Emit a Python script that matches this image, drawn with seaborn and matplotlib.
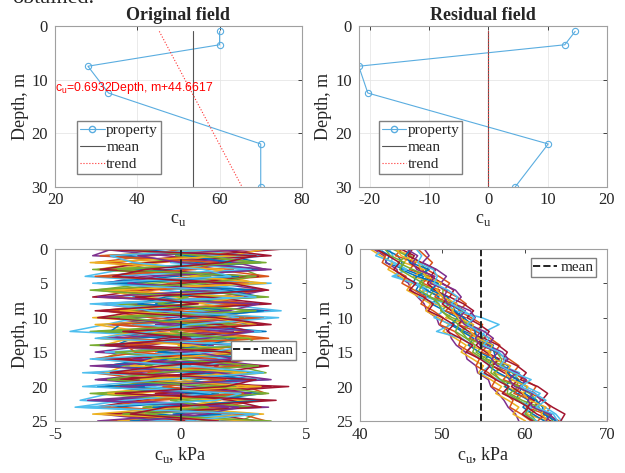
"""Original vs residual undrained shear strength field, with simulated profiles."""

import matplotlib

matplotlib.use("Agg")
import matplotlib.pyplot as plt
import pandas as pd
import seaborn as sns
from matplotlib.lines import Line2D

# ---- measured profile (top panels) ----
DEPTH = [1, 3.5, 7.5, 12.5, 22, 30]
CU_PROPERTY = [60, 60, 28, 33, 70, 70]
CU_RESIDUAL = [14.65, 12.9, -21.86, -20.33, 10.1, 4.54]
CU_MEAN = 53.6
TREND_DEPTH = [1, 30]
TREND_CU = [45.35, 65.46]
TREND_LABEL = r"c$_\mathregular{u}$=0.6932Depth, m+44.6617"

# ---- simulated profiles (bottom panels) ----
SIM_DEPTH = [0, 1, 2, 3, 4, 5, 6, 7, 8, 9, 10, 11, 12, 13, 14, 15, 16, 17, 18, 19, 20, 21, 22, 23, 24, 25]

SIM_RESIDUAL = [
    [-2.1, 1.8, 3.2, -0.5, -3.1, 2.4, 0.7, -1.9, 3.4, -2.8, 1.1, 2.9, -3.3, -0.8, 2.2, 3.5, -1.4, -2.9, 0.6, 3.1, -2.2, 1.5, -3.4, 2.7, -0.3, 1.9],
    [3.0, -1.2, -3.4, 2.1, 0.9, -2.6, 3.3, 1.4, -0.7, -3.2, 2.5, -1.8, 0.4, 3.1, -2.9, -0.6, 2.8, 1.2, -3.5, -1.1, 2.6, 3.4, -0.9, -2.5, 1.7, -3.0],
    [0.4, 2.7, -1.6, -3.3, 1.9, 3.0, -2.4, -0.2, 2.3, 1.0, -3.5, 0.8, 2.6, -2.0, -3.1, 1.6, 3.2, -0.7, 2.0, -2.7, -0.4, -3.3, 2.9, 0.5, -1.8, 3.2],
    [-3.3, -0.6, 2.2, 3.4, -1.5, -3.0, 0.9, 2.8, -2.2, 3.6, -0.5, -2.9, 1.8, 0.3, -1.2, -3.4, 0.9, 3.3, -2.0, 1.4, 3.0, -0.8, -2.4, 3.5, -3.2, -0.6],
    [1.6, -3.0, 0.3, 2.5, 3.2, -1.1, -3.4, 1.7, 0.2, -2.1, 3.1, 1.3, -3.6, 2.4, 0.8, -2.3, -3.2, 2.2, 3.4, -0.3, -3.0, 2.0, 0.6, -1.5, 3.0, 2.4],
    [-1.0, 3.3, 1.2, -2.3, -3.8, 0.5, 2.7, -3.1, 1.5, 4.0, -1.7, -3.0, -4.4, 1.1, 3.0, -1.0, 1.6, -2.5, 0.2, 2.9, 1.0, -2.8, -4.0, 0.7, 2.6, -1.2],
    [4.2, 0.6, -2.8, -1.0, 2.6, 1.8, -1.5, -3.5, 3.0, -0.9, 0.4, 3.3, -1.0, -3.2, 2.1, 0.9, -2.6, 3.5, 1.3, -3.3, 4.3, 0.3, -1.6, -3.4, 1.2, 3.0],
    [2.3, -2.4, 0.8, 3.1, -0.2, -3.3, 1.9, 3.2, -1.0, 2.0, -2.8, 0.1, 3.4, -1.9, -2.6, 2.7, -0.5, -3.1, 2.4, 0.7, -1.8, 3.3, 1.1, -2.7, -0.9, 2.2],
    [-0.7, 1.0, -2.9, 1.3, 3.5, -0.4, -2.0, 0.6, 2.9, -3.0, -1.2, 2.4, 0.5, -2.5, 3.3, -1.6, -3.5, 0.4, -1.3, 2.5, -2.6, -0.5, 3.1, 1.6, -2.9, 0.3],
    [3.4, 2.0, -0.8, -2.7, 0.7, 3.1, -3.2, -1.4, 0.9, 2.6, 1.8, -3.4, -1.5, 3.0, -0.1, 2.1, 3.0, -2.2, -3.0, 0.1, 1.9, -2.0, 2.5, -0.2, 3.3, -2.5],
    [-2.7, -3.5, 2.6, 0.2, -2.2, 1.4, 3.4, 2.0, -3.3, -0.6, 3.2, -1.0, 2.1, -3.0, 1.3, 0.3, -1.9, 2.7, -0.6, -3.4, 0.5, 2.8, -3.1, 1.9, 0.4, -3.3],
    [0.9, -0.2, 3.4, -3.5, 1.2, -1.8, 0.2, 3.5, -2.6, 1.5, -3.1, 2.2, -0.4, 1.8, -3.6, 3.1, 0.0, -1.4, 3.2, -2.0, 2.2, -3.6, 0.3, 2.8, -1.4, 1.1],
    [-3.6, 2.4, -0.4, 2.8, -3.0, 3.6, -0.8, 2.1, -3.6, 0.8, 2.3, -1.9, 3.2, -0.5, 2.5, -3.0, 2.3, 0.9, -3.9, 3.5, -1.4, 1.2, -2.2, -4.2, 2.0, -0.8],
    [1.2, 3.6, -1.3, -3.2, 3.1, 0.2, -2.7, 1.0, 3.6, -1.5, -3.3, 1.6, 2.8, -0.7, -2.0, 3.4, -3.0, 1.5, 0.8, -2.4, 3.6, -1.0, 2.0, 3.2, -3.0, 0.6],
    [-1.8, 0.3, 2.0, -1.9, 2.3, -2.5, 3.0, -0.6, -1.7, 3.3, 0.6, -2.4, -2.8, 2.2, 1.0, -0.9, 3.6, -3.3, 0.9, 2.6, -3.3, 0.7, 3.2, -1.1, 1.6, -2.0],
    [2.8, -3.2, 1.5, 0.6, -3.4, 2.7, -1.1, -2.6, 2.2, -0.3, 3.3, -2.7, 1.0, 3.5, -2.2, -1.8, 1.4, 2.4, -2.6, 1.8, -0.7, 2.5, -1.3, -3.1, 2.4, 3.4],
    [-0.3, 2.2, -3.6, 1.7, 0.4, 3.4, -2.9, 2.5, 0.5, -2.4, 1.2, 3.0, -1.7, -3.3, 0.4, 2.6, -1.1, -2.0, 2.6, -1.6, 3.2, -2.9, 1.6, 0.0, -3.5, 2.8],
    [3.2, -1.7, 0.0, 3.6, -1.0, -2.1, 1.6, -3.3, 3.1, 1.9, -2.0, -0.5, 2.9, 1.0, -3.2, 0.6, 2.2, -3.6, 1.5, 3.6, -2.4, 0.1, -3.7, 2.3, 1.0, -1.6],
    [-2.4, 0.9, 2.9, -2.5, 3.0, 1.0, -3.6, 0.3, -0.9, 3.0, -2.4, 1.0, -3.0, 2.7, 3.1, -2.6, -0.3, 3.1, -1.0, -2.9, 1.3, 3.5, -0.4, 1.1, -2.3, 3.6],
    [1.9, -2.8, -1.9, 0.9, 2.0, -3.5, 1.5, 3.0, -2.9, -1.2, 3.9, 0.4, -1.1, -3.4, 2.8, 1.2, -3.6, 0.3, 3.3, -0.8, -3.9, 2.4, 1.4, -4.0, 3.1, 0.2],
    [-3.9, 3.0, 1.7, -1.4, -2.7, 2.0, 3.5, -1.8, 0.7, -3.4, 1.4, 3.6, -2.3, 0.4, -3.0, 1.8, 3.2, -0.8, -2.8, 3.0, 1.8, -2.6, 3.8, -0.6, -2.0, 1.5],
]

SIM_FIELD = [
    [42.2, 43.6, 43.1, 45.5, 47.7, 47.3, 46.8, 48.4, 50.8, 52.3, 51.8, 51.3, 52.7, 54.6, 56.2, 55.8, 55.3, 56.8, 58.7, 60.1, 59.7, 59.3, 59.0, 61.1, 62.7, 62.8],
    [47.0, 47.9, 48.8, 48.1, 49.6, 50.9, 50.2, 51.8, 52.9, 52.0, 53.5, 54.9, 54.1, 55.8, 57.0, 56.4, 58.1, 59.3, 58.6, 60.0, 61.4, 60.8, 62.3, 63.1, 62.6, 64.2],
    [44.1, 46.2, 45.3, 47.8, 46.5, 48.9, 47.6, 50.3, 49.1, 51.7, 50.4, 53.1, 52.2, 54.6, 53.1, 55.9, 54.8, 57.3, 56.2, 58.6, 57.5, 60.1, 58.9, 61.4, 60.2, 62.9],
    [41.6, 42.9, 43.2, 44.5, 44.6, 45.9, 46.2, 47.0, 47.8, 48.1, 49.3, 49.6, 50.8, 51.1, 51.7, 52.8, 53.0, 54.1, 54.3, 55.6, 55.9, 56.8, 57.5, 58.0, 58.9, 59.3],
    [45.9, 46.1, 47.3, 48.0, 47.9, 49.4, 50.1, 50.0, 51.6, 52.5, 52.2, 53.1, 54.6, 55.0, 54.9, 56.6, 57.2, 57.1, 58.5, 59.3, 59.0, 60.6, 61.5, 61.2, 62.9, 63.4],
    [43.5, 44.0, 43.8, 45.6, 44.2, 47.0, 48.3, 48.0, 50.5, 51.6, 54.8, 56.9, 55.2, 54.6, 55.8, 56.7, 57.9, 57.3, 59.4, 58.6, 60.1, 61.9, 60.8, 62.5, 63.8, 64.5],
    [46.4, 45.8, 47.5, 49.2, 48.6, 50.0, 51.4, 50.9, 52.6, 53.8, 53.0, 54.5, 55.7, 55.1, 56.8, 57.9, 57.4, 59.1, 60.2, 59.5, 61.6, 62.8, 62.1, 63.4, 64.9, 64.4],
    [42.9, 44.6, 45.1, 45.0, 46.9, 46.4, 48.1, 49.6, 48.7, 50.3, 51.9, 51.0, 52.4, 53.8, 53.2, 54.5, 56.1, 55.6, 56.8, 58.4, 57.6, 59.1, 60.5, 59.8, 61.0, 62.4],
    [45.1, 44.3, 46.8, 46.0, 48.5, 47.6, 49.7, 49.1, 51.3, 50.4, 52.8, 52.0, 54.1, 53.3, 55.6, 54.7, 56.9, 56.0, 58.2, 57.4, 59.6, 58.7, 61.1, 60.2, 62.5, 61.6],
    [41.2, 42.5, 44.0, 43.4, 44.9, 46.3, 45.7, 47.2, 48.6, 48.0, 49.5, 50.8, 50.1, 51.6, 52.9, 52.3, 53.7, 55.0, 54.4, 55.9, 57.2, 56.5, 58.0, 59.3, 58.6, 60.1],
    [47.8, 48.4, 47.6, 49.3, 50.5, 49.8, 51.6, 52.3, 51.5, 53.4, 54.0, 53.3, 55.1, 56.2, 55.5, 57.3, 58.0, 57.2, 59.1, 60.2, 59.4, 61.3, 62.0, 61.1, 63.0, 63.9],
    [43.9, 45.7, 44.6, 46.4, 48.3, 47.2, 49.0, 48.4, 50.9, 49.8, 51.2, 53.4, 52.3, 53.0, 55.2, 54.1, 55.4, 57.5, 56.3, 57.0, 59.3, 58.2, 59.7, 61.8, 60.7, 61.4],
    [42.8, 41.9, 44.2, 45.7, 43.9, 46.6, 47.9, 47.1, 49.5, 50.2, 49.0, 51.1, 49.3, 52.4, 53.6, 53.0, 54.9, 55.8, 54.6, 56.9, 58.1, 57.4, 59.2, 60.9, 60.0, 61.5],
    [44.9, 46.6, 46.0, 47.3, 48.9, 48.2, 49.1, 50.8, 50.0, 51.1, 52.7, 51.9, 53.2, 54.9, 54.1, 55.3, 56.9, 56.1, 57.5, 59.2, 58.4, 59.6, 61.2, 60.3, 61.5, 63.2],
    [46.2, 45.5, 46.1, 48.4, 47.0, 49.5, 48.6, 50.6, 51.3, 51.5, 52.6, 53.6, 54.0, 54.2, 55.9, 56.3, 56.5, 58.0, 57.9, 59.1, 60.3, 60.0, 61.4, 62.2, 62.3, 63.8],
    [42.0, 43.1, 42.7, 44.0, 45.6, 45.1, 46.6, 48.0, 47.4, 48.9, 50.1, 49.7, 51.5, 52.3, 52.0, 53.4, 54.5, 54.1, 55.6, 56.5, 56.0, 57.7, 58.6, 58.2, 59.6, 60.8],
    [44.4, 45.0, 47.1, 47.4, 48.0, 49.9, 49.3, 50.1, 51.8, 51.2, 51.9, 53.8, 53.4, 54.3, 56.1, 55.6, 56.2, 58.3, 57.7, 58.4, 60.4, 59.8, 60.6, 62.6, 62.0, 62.9],
    [45.6, 47.0, 46.4, 46.9, 49.1, 48.5, 50.6, 50.2, 50.6, 52.8, 52.1, 52.7, 54.7, 54.0, 54.6, 56.8, 56.0, 56.7, 58.9, 58.1, 58.8, 61.0, 60.4, 61.0, 63.3, 62.6],
    [43.0, 43.7, 45.4, 44.8, 46.2, 47.7, 47.2, 48.6, 49.6, 49.9, 50.8, 52.0, 51.6, 52.9, 54.0, 53.7, 55.0, 56.2, 55.9, 57.1, 58.0, 57.9, 59.3, 60.4, 60.1, 61.2],
    [46.8, 47.5, 47.0, 48.9, 49.4, 49.0, 50.7, 51.9, 51.1, 52.6, 53.9, 53.0, 54.5, 55.7, 55.0, 56.9, 57.6, 57.0, 58.7, 60.8, 59.5, 61.2, 62.6, 61.4, 63.5, 64.0],
    [41.9, 43.4, 44.8, 44.1, 45.3, 46.8, 46.0, 47.7, 48.9, 48.3, 50.0, 51.4, 50.6, 52.2, 53.7, 52.9, 54.6, 55.8, 55.1, 56.5, 58.1, 57.3, 59.0, 60.5, 59.7, 61.0],
]
SIM_RESIDUAL_MEAN = 0.0
SIM_FIELD_MEAN = 54.7
MEAN_DEPTH = [0, 25]

MATLAB_COLORS = ["#0072BD", "#D95319", "#EDB120", "#7E2F8E", "#77AC30", "#4DBEEE", "#A2142F"]
PROP_COLOR = "#5AADE0"

sns.set_theme(style="white")
plt.rcParams.update({
    "font.family": ["Liberation Serif", "DejaVu Serif"],
    "mathtext.fontset": "custom",
    "mathtext.rm": "Liberation Serif",
    "axes.unicode_minus": False,
    "axes.edgecolor": "#a0a0a0",
    "axes.linewidth": 0.8,
    "xtick.direction": "in",
    "ytick.direction": "in",
    "xtick.color": "#262626",
    "ytick.color": "#262626",
    "xtick.labelsize": 12,
    "ytick.labelsize": 12,
    "xtick.major.size": 3,
    "ytick.major.size": 3,
    "xtick.major.width": 0.6,
    "ytick.major.width": 0.6,
    "xtick.major.pad": 4,
    "ytick.major.pad": 5,
    "legend.fontsize": 11,
})


def long_form(profiles):
    rows = []
    for k, values in enumerate(profiles):
        for d, v in zip(SIM_DEPTH, values):
            rows.append({"sim": k, "depth": d, "cu": v})
    return pd.DataFrame(rows)


def style_axes(ax, grid):
    ax.tick_params(top=True, right=True, which="both")
    if grid:
        ax.grid(True, color="#e6e6e6", linewidth=0.6)
    else:
        ax.grid(False)
    ax.set_axisbelow(True)
    ax.set_ylabel("Depth, m", fontsize=13, labelpad=2)


def plot_profile(ax, values, mean_x, trend_x, title, legend_x):
    df = pd.DataFrame({"depth": DEPTH, "cu": values})
    sns.lineplot(data=df, x="cu", y="depth", orient="y", sort=False, ax=ax, color=PROP_COLOR,
                 lw=0.8, marker="o", markersize=4.5, markerfacecolor="none",
                 markeredgecolor=PROP_COLOR, markeredgewidth=0.8)
    sns.lineplot(x=[mean_x, mean_x], y=[DEPTH[0], DEPTH[-1]], orient="y", sort=False, ax=ax,
                 color="#555555", lw=0.8)
    sns.lineplot(x=trend_x, y=TREND_DEPTH, orient="y", sort=False, ax=ax,
                 color="#ff3030", lw=0.8, linestyle=":")
    ax.set_ylim(30, 0)
    ax.set_yticks([0, 10, 20, 30])
    ax.set_title(title, fontsize=13, fontweight="bold", pad=4)
    ax.set_xlabel(r"c$_\mathregular{u}$", fontsize=13, labelpad=2)
    style_axes(ax, True)
    handles = [
        Line2D([], [], color=PROP_COLOR, lw=0.8, marker="o", markersize=4.5, markerfacecolor="none"),
        Line2D([], [], color="#555555", lw=0.8),
        Line2D([], [], color="#ff3030", lw=0.8, linestyle=":"),
    ]
    ax.legend(handles, ["property", "mean", "trend"], loc="lower left", bbox_to_anchor=(legend_x, 0.08),
              fancybox=False, edgecolor="#808080", framealpha=1, handlelength=1.6,
              handletextpad=0.1, borderpad=0.2, labelspacing=0.2, borderaxespad=0)


def plot_simulations(ax, profiles, mean_x, xlim, xticks, legend_kw):
    df = long_form(profiles)
    palette = [MATLAB_COLORS[k % 7] for k in range(len(profiles))]
    sns.lineplot(data=df, x="cu", y="depth", hue="sim", units="sim", estimator=None,
                 orient="y", sort=False, palette=palette, lw=1.1, legend=False, ax=ax)
    sns.lineplot(x=[mean_x, mean_x], y=MEAN_DEPTH, orient="y", sort=False, ax=ax,
                 color="#222222", lw=1.4, linestyle="--")
    ax.set_xlim(*xlim)
    ax.set_xticks(xticks)
    ax.set_ylim(25, 0)
    ax.set_yticks([0, 5, 10, 15, 20, 25])
    ax.set_xlabel(r"c$_\mathregular{u}$, kPa", fontsize=13, labelpad=2)
    style_axes(ax, False)
    handle = Line2D([], [], color="#222222", lw=1.4, linestyle="--")
    ax.legend([handle], ["mean"], fancybox=False, edgecolor="#808080", framealpha=1,
              handlelength=1.6, handletextpad=0.2, borderpad=0.15, borderaxespad=0, **legend_kw)


fig = plt.figure(figsize=(6.25, 4.73), dpi=100)
ax_orig = fig.add_axes([0.088, 0.605, 0.395, 0.340])
ax_res = fig.add_axes([0.574, 0.605, 0.397, 0.340])
ax_sim_res = fig.add_axes([0.088, 0.110, 0.402, 0.364])
ax_sim = fig.add_axes([0.576, 0.110, 0.395, 0.364])

plot_profile(ax_orig, CU_PROPERTY, CU_MEAN, TREND_CU, "Original field", 0.09)
ax_orig.set_xlim(20, 80)
ax_orig.set_xticks([20, 40, 60, 80])
ax_orig.text(20, 11.5, TREND_LABEL, color="red", fontsize=8.8, va="center", ha="left",
             family=["Liberation Sans", "DejaVu Sans"], math_fontfamily="dejavusans")

plot_profile(ax_res, CU_RESIDUAL, 0, [0, 0], "Residual field", 0.08)
ax_res.set_xlim(-21.86, 20)
ax_res.set_xticks([-20, -10, 0, 10, 20])

plot_simulations(ax_sim_res, SIM_RESIDUAL, SIM_RESIDUAL_MEAN, (-5, 5), [-5, 0, 5],
                 dict(loc="center right", bbox_to_anchor=(0.96, 0.41)))
plot_simulations(ax_sim, SIM_FIELD, SIM_FIELD_MEAN, (40, 70), [40, 50, 60, 70],
                 dict(loc="upper right", bbox_to_anchor=(0.955, 0.945)))

# clipped line of the surrounding page text
fig.text(0.02, 1 - 3 / 473, "obtained.", fontsize=16, va="baseline", ha="left")

fig.savefig("out.png", dpi=100)
